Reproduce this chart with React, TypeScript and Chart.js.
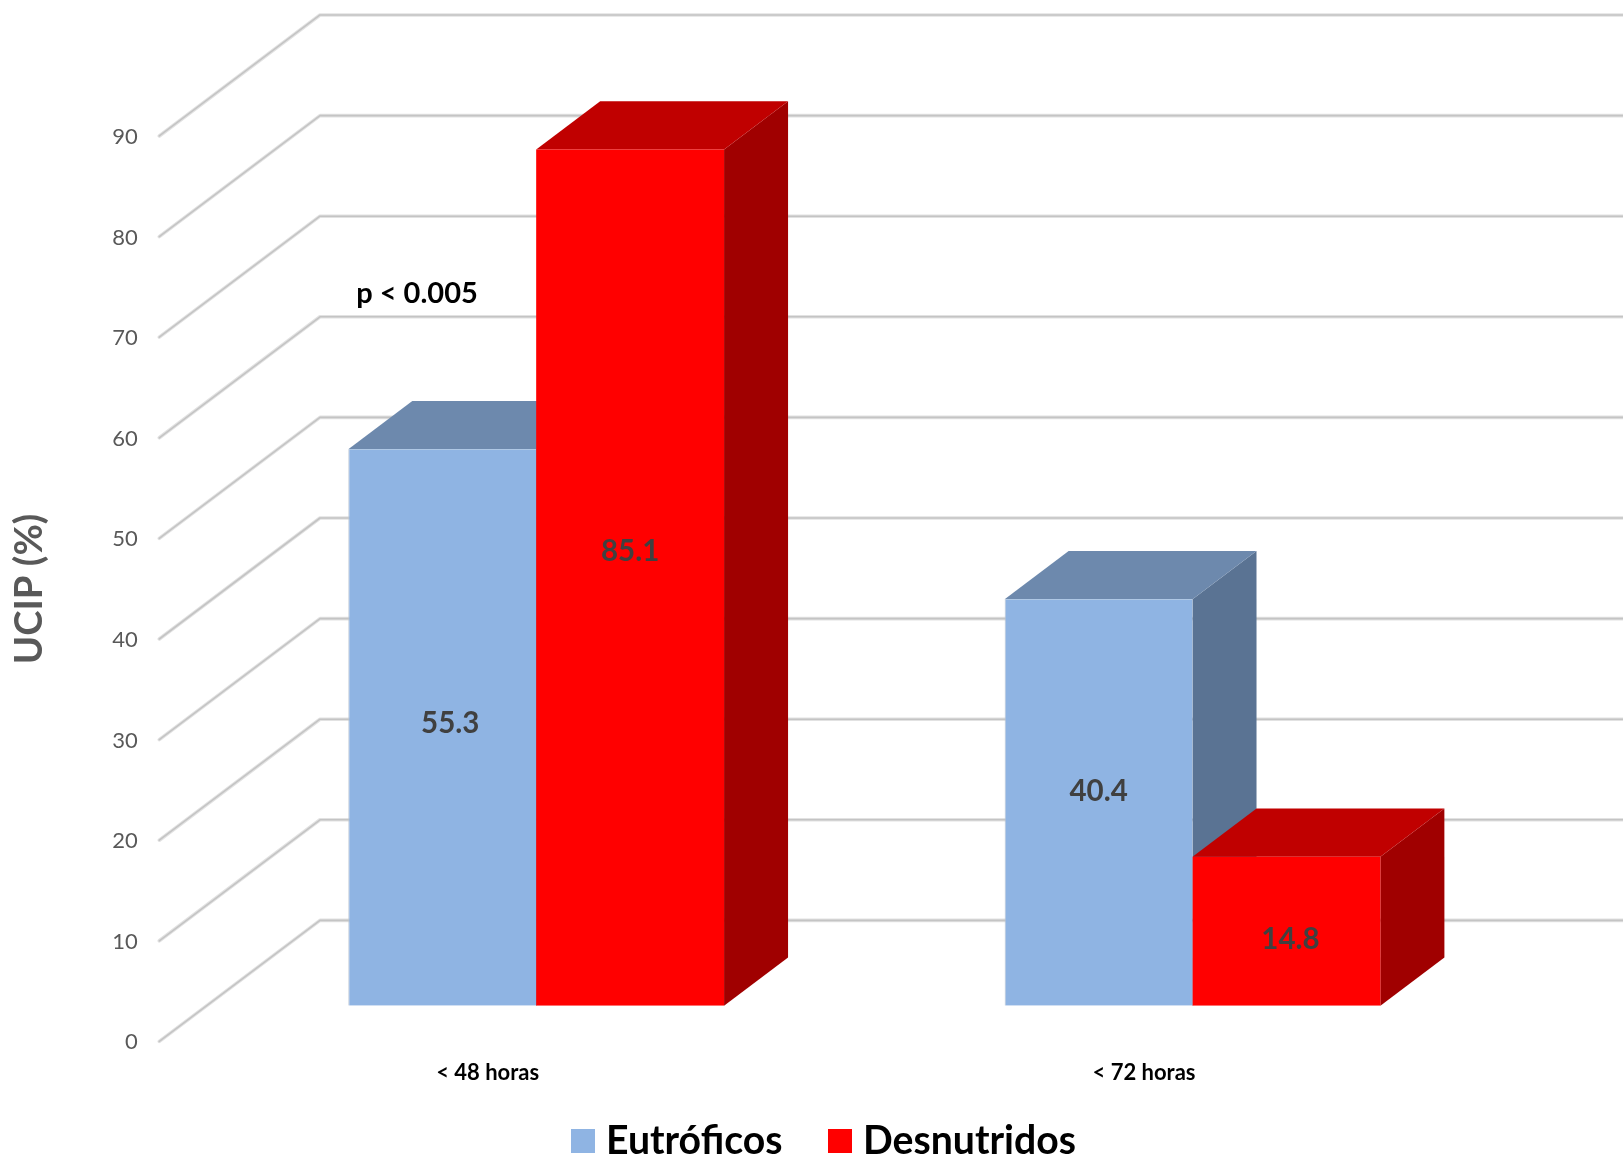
import React, { useEffect, useRef } from "react";
import { Chart, registerables } from "chart.js";

Chart.register(...registerables);

const categories = ["< 48 horas", "< 72 horas"];
const eutroficos = [55.3, 40.4];
const desnutridos = [85.1, 14.8];
const yTicks = [0, 10, 20, 30, 40, 50, 60, 70, 80, 90];
const yTitle = "UCIP (%)";
const annotation = "p < 0.005";

const FONT = "Lato, Carlito, 'Open Sans', sans-serif";

// Shading of each series: front, top and side faces of the extruded columns.
const shades = [
  { front: "#8fb4e3", top: "#6d89ad", side: "#5a7393" },
  { front: "#ff0000", top: "#c00000", side: "#a00000" },
];

// Depth of a column, and where the side wall sits relative to the column plane.
const BAR_DX = 64;
const BAR_DY = 48.3;
const WALL_FRONT_DX = -48.7;
const WALL_FRONT_DY = 35.7;
const WALL_DX = 160.7;
const WALL_DY = 121;

// Hand placement of the value labels relative to each column's centre (px).
const labelShift = [
  [[8, -4], [0, -26]],
  [[0, -11], [4, 8]],
];

const pseudo3d = {
  id: "pseudo3d",
  beforeDatasetsDraw(chart: any) {
    const { ctx, chartArea, scales } = chart;
    const y = scales.y;
    ctx.save();
    ctx.lineCap = "round";
    ctx.lineJoin = "round";

    // Wall and back-plane grid
    for (const v of yTicks) {
      const py = y.getPixelForValue(v);
      const fx = chartArea.left + WALL_FRONT_DX;
      const fy = py + WALL_FRONT_DY;
      const path = () => {
        ctx.beginPath();
        ctx.moveTo(fx, fy);
        ctx.lineTo(fx + WALL_DX, fy - WALL_DY);
        ctx.lineTo(chart.width + 2, fy - WALL_DY);
      };
      path();
      ctx.strokeStyle = "#e2e2e2";
      ctx.lineWidth = 3.6;
      ctx.stroke();
      path();
      ctx.strokeStyle = "#c4c4c4";
      ctx.lineWidth = 1.6;
      ctx.stroke();
    }

    // Top and side faces, left series first so the right one overlaps it
    chart.data.datasets.forEach((_: any, di: number) => {
      const shade = shades[di];
      for (const bar of chart.getDatasetMeta(di).data) {
        const l = bar.x - bar.width / 2;
        const r = bar.x + bar.width / 2;
        const t = bar.y;
        const b = bar.base;
        ctx.fillStyle = shade.side;
        ctx.beginPath();
        ctx.moveTo(r, t);
        ctx.lineTo(r + BAR_DX, t - BAR_DY);
        ctx.lineTo(r + BAR_DX, b - BAR_DY);
        ctx.lineTo(r, b);
        ctx.closePath();
        ctx.fill();
        ctx.fillStyle = shade.top;
        ctx.beginPath();
        ctx.moveTo(l, t);
        ctx.lineTo(l + BAR_DX, t - BAR_DY);
        ctx.lineTo(r + BAR_DX, t - BAR_DY);
        ctx.lineTo(r, t);
        ctx.closePath();
        ctx.fill();
      }
    });
    ctx.restore();
  },
  afterDatasetsDraw(chart: any) {
    const { ctx } = chart;
    ctx.save();
    ctx.textAlign = "center";
    ctx.textBaseline = "middle";

    // Value labels
    ctx.font = `bold 29.5px ${FONT}`;
    ctx.fillStyle = "#404040";
    chart.data.datasets.forEach((ds: any, di: number) => {
      chart.getDatasetMeta(di).data.forEach((bar: any, i: number) => {
        const [dx, dy] = labelShift[i][di];
        ctx.fillText(ds.data[i].toFixed(1), bar.x + dx, (bar.y + bar.base) / 2 + dy);
      });
    });

    // Significance note
    ctx.font = `bold 29px ${FONT}`;
    ctx.fillStyle = "#000000";
    ctx.fillText(annotation, 417, 294);

    // Axis title
    ctx.save();
    ctx.translate(30, 589);
    ctx.rotate(-Math.PI / 2);
    ctx.font = `bold 38.3px ${FONT}`;
    ctx.fillStyle = "#595959";
    ctx.fillText(yTitle, 0, 0);
    ctx.restore();

    // Legend row
    ctx.font = `bold 39.2px ${FONT}`;
    ctx.textAlign = "left";
    const legendY = 1141;
    const legendX = [571, 828];
    chart.data.datasets.forEach((ds: any, di: number) => {
      ctx.fillStyle = ds.backgroundColor;
      ctx.fillRect(legendX[di], legendY - 12, 24, 24);
      ctx.fillStyle = "#000000";
      ctx.fillText(ds.label, legendX[di] + 35, legendY);
    });
    ctx.restore();
  },
};

export default function App() {
  const ref = useRef<HTMLCanvasElement>(null);

  useEffect(() => {
    document.body.style.margin = "0";
    const chart = new Chart(ref.current!, {
      type: "bar",
      data: {
        labels: categories,
        datasets: [
          {
            label: "Eutróficos",
            data: eutroficos,
            backgroundColor: shades[0].front,
            borderColor: "#b9c4d2",
            borderWidth: { left: 1, bottom: 1 },
          },
          {
            label: "Desnutridos",
            data: desnutridos,
            backgroundColor: shades[1].front,
            borderColor: "#d9b0b0",
            borderWidth: { left: 0, bottom: 1 },
          },
        ],
      },
      options: {
        responsive: false,
        animation: false,
        layout: { padding: { top: 19.8, right: 102.3, left: 0, bottom: 0 } },
        datasets: { bar: { barPercentage: 1, categoryPercentage: 0.5725 } },
        plugins: { legend: { display: false }, tooltip: { enabled: false } },
        scales: {
          x: {
            grid: { display: false },
            border: { display: false },
            afterFit(scale: any) {
              scale.height = 153.3;
              scale.paddingLeft = 0;
              scale.paddingRight = 0;
            },
            ticks: {
              maxRotation: 0,
              labelOffset: -48.5,
              padding: 46,
              color: "#000000",
              font: { family: FONT, size: 22, weight: "bold" },
            },
          },
          y: {
            min: 0,
            max: 98,
            grid: { display: false },
            border: { display: false },
            afterFit(scale: any) {
              scale.width = 208;
              scale.paddingTop = 0;
              scale.paddingBottom = 0;
            },
            afterBuildTicks(scale: any) {
              scale.ticks = yTicks.map((value) => ({ value }));
            },
            ticks: {
              labelOffset: 36.7,
              padding: 62.3,
              color: "#595959",
              font: { family: FONT, size: 22 },
            },
          },
        },
      } as any,
      plugins: [pseudo3d],
    });
    return () => chart.destroy();
  }, []);

  return <canvas ref={ref} width={1623} height={1159} style={{ display: "block" }} />;
}
